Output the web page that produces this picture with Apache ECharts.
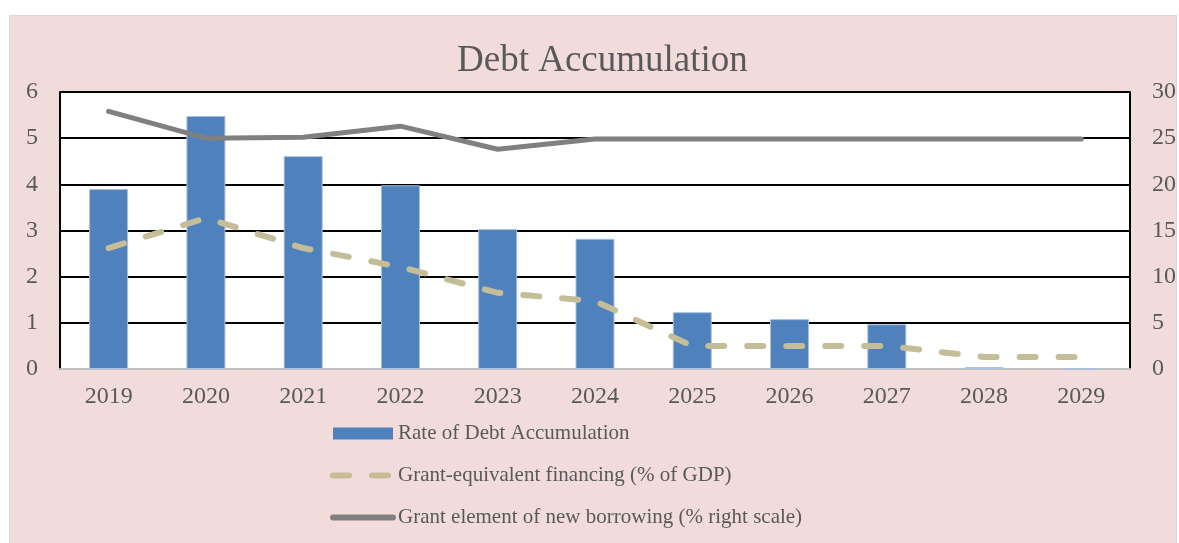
<!DOCTYPE html>
<html>
<head>
<meta charset="utf-8">
<script src="https://cdn.jsdelivr.net/npm/echarts@6/dist/echarts.min.js"></script>
<style>
html, body { margin: 0; padding: 0; background: #ffffff; }
#frame { position: absolute; left: 9px; top: 15px; width: 1166px; height: 540px; background: #F2DCDB; border: 1px solid #d9d9d9; }
#main { position: absolute; left: 0; top: 0; width: 1179px; height: 543px; }
</style>
</head>
<body>
<div id="frame"></div>
<div id="main"></div>
<script>
// 数据
var years = ['2019', '2020', '2021', '2022', '2023', '2024', '2025', '2026', '2027', '2028', '2029'];
var debtRate = [3.9, 5.48, 4.61, 3.98, 3.03, 2.82, 1.23, 1.08, 0.97, 0.04, 0];
var grantEquiv = [2.62, 3.27, 2.62, 2.21, 1.65, 1.47, 0.5, 0.5, 0.5, 0.26, 0.26];
var grantElement = [27.9, 25.0, 25.1, 26.3, 23.8, 24.9, 24.9, 24.9, 24.9, 24.9, 24.9];
var leftTicks = [0, 6, 1];   // min, max, interval
var rightTicks = [0, 30, 5];

var serif = '"Liberation Serif", "DejaVu Serif", serif';
var textColor = '#595959';
var dashType = [16, 23];

var chart = echarts.init(document.getElementById('main'));
var labelStyle = function(margin) {
	return {
		margin : margin,
		fontFamily : serif,
		fontSize : 24,
		color : textColor
	};
};
var option = {
	backgroundColor : 'transparent',
	animation : false,
	title : {
		text : 'Debt Accumulation',
		left : 452,
		top : 38,
		textStyle : {
			fontFamily : serif,
			fontSize : 37,
			fontWeight : 'normal',
			color : textColor
		}
	},
	legend : {
		orient : 'vertical',
		left : 325,
		top : 418,
		itemWidth : 60,
		itemHeight : 12,
		itemGap : 21,
		textStyle : {
			fontFamily : serif,
			fontSize : 21,
			color : textColor
		},
		data : [ {
			name : 'Rate of Debt Accumulation',
			icon : 'rect',
			itemStyle : { borderWidth : 0 }
		}, {
			name : 'Grant-equivalent financing (% of GDP)',
			itemStyle : { opacity : 0 },
			lineStyle : { width : 6, type : dashType, cap : 'round' }
		}, {
			name : 'Grant element of new borrowing (% right scale)',
			itemStyle : { opacity : 0 },
			lineStyle : { width : 6, cap : 'round' }
		} ]
	},
	grid : {
		left : 60,
		right : 49,
		top : 92,
		bottom : 174,
		show : true,
		backgroundColor : '#ffffff',
		borderWidth : 0
	},
	xAxis : {
		type : 'category',
		data : years,
		axisTick : { show : false },
		axisLine : { lineStyle : { color : '#bfbfbf', width : 2 } },
		axisLabel : labelStyle(16)
	},
	yAxis : [ {
		type : 'value',
		min : leftTicks[0],
		max : leftTicks[1],
		interval : leftTicks[2],
		axisLine : { show : true, lineStyle : { color : '#000000', width : 2 } },
		axisTick : { show : false },
		splitLine : { lineStyle : { color : '#000000', width : 2 } },
		axisLabel : labelStyle(22)
	}, {
		type : 'value',
		min : rightTicks[0],
		max : rightTicks[1],
		interval : rightTicks[2],
		axisLine : { show : true, lineStyle : { color : '#000000', width : 2 } },
		axisTick : { show : false },
		splitLine : { show : false },
		axisLabel : labelStyle(22)
	} ],
	series : [ {
		name : 'Rate of Debt Accumulation',
		type : 'bar',
		data : debtRate,
		barWidth : 39,
		itemStyle : {
			color : '#4F81BD',
			borderColor : '#a7c0de',
			borderWidth : 1
		}
	}, {
		name : 'Grant-equivalent financing (% of GDP)',
		type : 'line',
		data : grantEquiv,
		symbol : 'none',
		lineStyle : {
			color : '#C4BD97',
			width : 6,
			type : dashType,
			cap : 'round'
		},
		itemStyle : { color : '#C4BD97' }
	}, {
		name : 'Grant element of new borrowing (% right scale)',
		type : 'line',
		yAxisIndex : 1,
		data : grantElement,
		symbol : 'none',
		lineStyle : {
			color : '#808080',
			width : 5,
			cap : 'round'
		},
		itemStyle : { color : '#808080' }
	} ]
};
chart.setOption(option);
</script>
</body>
</html>
